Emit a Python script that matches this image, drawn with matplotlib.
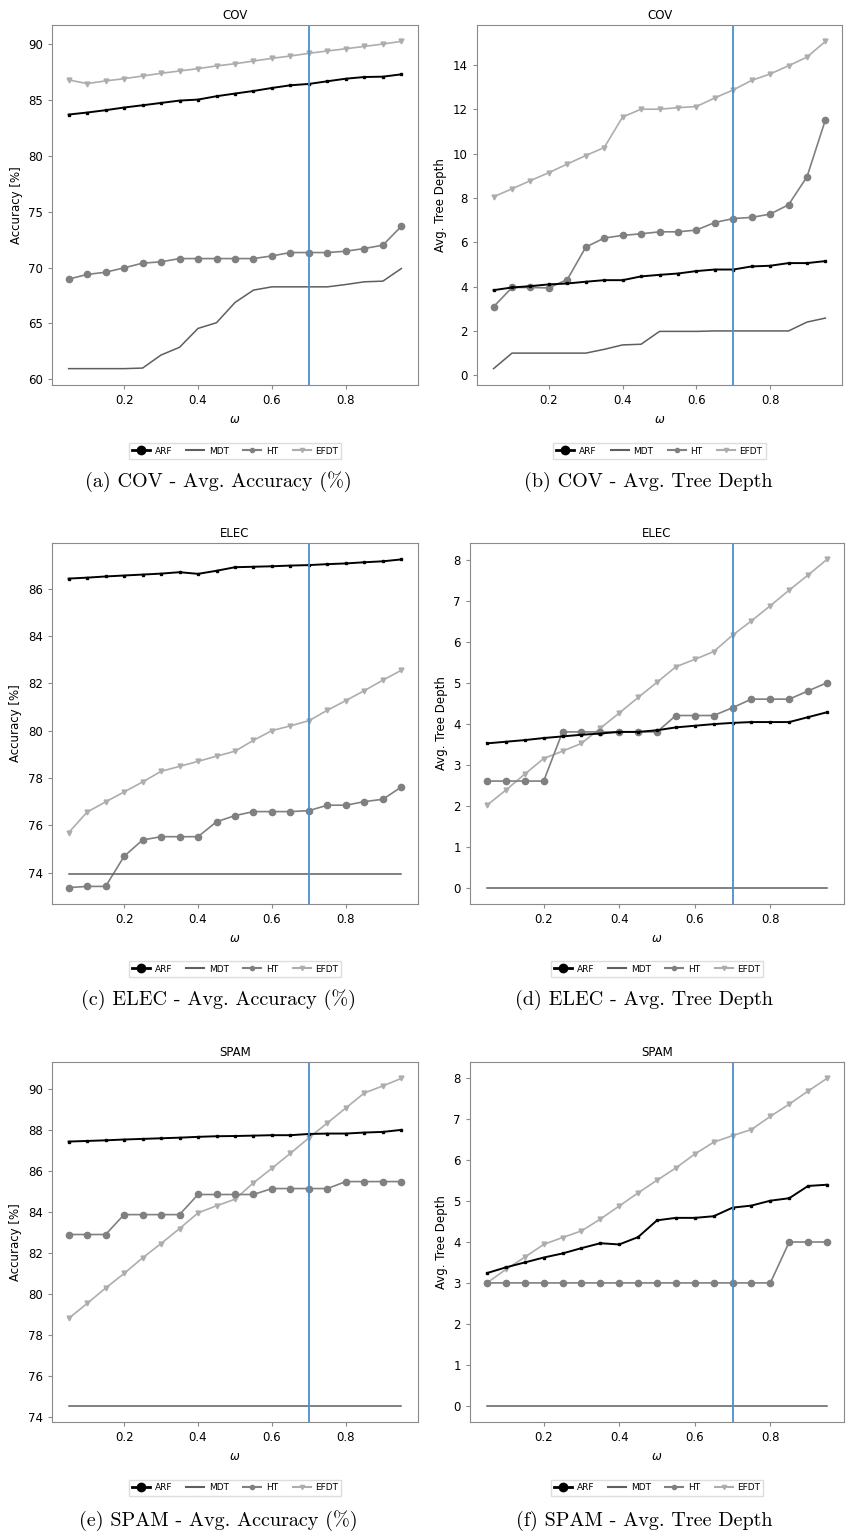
import numpy as np
import matplotlib
matplotlib.use('agg')
import matplotlib.pyplot as plt
from matplotlib.lines import Line2D

## omega values (x axis)
omega = [0.05, 0.10, 0.15, 0.20, 0.25, 0.30, 0.35, 0.40, 0.45, 0.50,
         0.55, 0.60, 0.65, 0.70, 0.75, 0.80, 0.85, 0.90, 0.95]

## COV - accuracy
cov_acc_arf = [83.69, 83.87, 84.08, 84.32, 84.52, 84.73, 84.94, 85.03, 85.33, 85.57,
               85.80, 86.07, 86.31, 86.43, 86.67, 86.90, 87.05, 87.08, 87.29]
cov_acc_mdt = [60.95, 60.95, 60.95, 60.95, 61.0, 62.17, 62.86, 64.55, 65.06, 66.87,
               67.98, 68.27, 68.27, 68.27, 68.27, 68.48, 68.72, 68.78, 69.91]
cov_acc_ht = [68.96, 69.38, 69.58, 69.97, 70.39, 70.51, 70.80, 70.80, 70.80, 70.80,
              70.80, 71.04, 71.34, 71.34, 71.34, 71.46, 71.70, 72.0, 73.69]
cov_acc_efdt = [86.79, 86.46, 86.70, 86.90, 87.14, 87.38, 87.59, 87.80, 88.04, 88.24,
                88.48, 88.72, 88.93, 89.17, 89.38, 89.58, 89.79, 90.0, 90.24]

## COV - tree depth
cov_dep_arf = [3.84, 3.96, 4.02, 4.10, 4.14, 4.22, 4.29, 4.29, 4.46, 4.53,
               4.59, 4.70, 4.77, 4.77, 4.91, 4.94, 5.06, 5.06, 5.15]
cov_dep_mdt = [0.30, 1.0, 1.0, 1.0, 1.0, 1.0, 1.17, 1.37, 1.40, 1.98,
               1.98, 1.98, 2.0, 2.0, 2.0, 2.0, 2.0, 2.40, 2.58]
cov_dep_ht = [3.09, 3.96, 3.96, 3.94, 4.32, 5.78, 6.19, 6.31, 6.38, 6.47,
              6.47, 6.55, 6.89, 7.07, 7.12, 7.27, 7.69, 8.95, 11.52]
cov_dep_efdt = [8.05, 8.41, 8.78, 9.14, 9.53, 9.91, 10.27, 11.65, 12.0, 12.0,
                12.07, 12.12, 12.51, 12.87, 13.30, 13.59, 13.96, 14.35, 15.06]

## ELEC - accuracy
elec_acc_arf = [86.42, 86.46, 86.51, 86.55, 86.59, 86.63, 86.69, 86.62, 86.75, 86.90,
                86.92, 86.94, 86.97, 86.99, 87.03, 87.06, 87.11, 87.15, 87.23]
elec_acc_mdt = [73.93] * 19
elec_acc_ht = [73.37, 73.42, 73.42, 74.69, 75.38, 75.52, 75.52, 75.52, 76.15, 76.41,
               76.58, 76.58, 76.58, 76.62, 76.85, 76.85, 77.0, 77.10, 77.62]
elec_acc_efdt = [75.69, 76.56, 76.99, 77.41, 77.83, 78.28, 78.49, 78.70, 78.92, 79.13,
                 79.59, 80.0, 80.20, 80.42, 80.86, 81.27, 81.69, 82.13, 82.55]

## ELEC - tree depth
elec_dep_arf = [3.52, 3.56, 3.60, 3.65, 3.69, 3.73, 3.76, 3.80, 3.80, 3.84,
                3.91, 3.95, 3.99, 4.02, 4.04, 4.04, 4.04, 4.16, 4.28]
elec_dep_mdt = [0.0] * 19
elec_dep_ht = [2.60, 2.60, 2.60, 2.60, 3.80, 3.80, 3.80, 3.80, 3.80, 3.80,
               4.20, 4.20, 4.20, 4.39, 4.60, 4.60, 4.60, 4.80, 5.0]
elec_dep_efdt = [2.01, 2.38, 2.77, 3.15, 3.33, 3.52, 3.89, 4.26, 4.64, 5.01,
                 5.39, 5.57, 5.76, 6.16, 6.51, 6.88, 7.26, 7.63, 8.01]

## SPAM - accuracy
spam_acc_arf = [87.42, 87.45, 87.48, 87.52, 87.55, 87.58, 87.61, 87.65, 87.68, 87.69,
                87.71, 87.73, 87.73, 87.79, 87.81, 87.81, 87.86, 87.89, 87.99]
spam_acc_mdt = [74.55] * 19
spam_acc_ht = [82.89, 82.89, 82.89, 83.86, 83.86, 83.86, 83.86, 84.84, 84.84, 84.84,
               84.84, 85.13, 85.13, 85.13, 85.13, 85.47, 85.47, 85.47, 85.47]
spam_acc_efdt = [78.80, 79.53, 80.28, 80.99, 81.75, 82.45, 83.18, 83.94, 84.29, 84.61,
                 85.41, 86.12, 86.85, 87.60, 88.33, 89.06, 89.79, 90.13, 90.50]

## SPAM - tree depth
spam_dep_arf = [3.24, 3.38, 3.50, 3.62, 3.72, 3.85, 3.97, 3.94, 4.12, 4.53,
                4.59, 4.59, 4.63, 4.84, 4.89, 5.01, 5.07, 5.37, 5.40]
spam_dep_mdt = [0.0] * 19
spam_dep_ht = [3.0] * 16 + [4.0, 4.0, 4.0]
spam_dep_efdt = [3.0, 3.33, 3.63, 3.94, 4.11, 4.27, 4.56, 4.88, 5.20, 5.51,
                 5.81, 6.15, 6.44, 6.60, 6.75, 7.07, 7.37, 7.69, 8.0]

omega_sel = 0.7

## figure layout (pixels)
W, H = 847, 1532
fig = plt.figure(figsize=(W / 100, H / 100), dpi=100)


def box(l, t, r, b):
    return [l / W, 1 - b / H, (r - l) / W, (b - t) / H]


panels = [
    # (box, title, ylabel, series, legend y, caption, caption x, caption y)
    (box(52, 25, 418, 385), 'COV', 'Accuracy [%]',
     (cov_acc_arf, cov_acc_mdt, cov_acc_ht, cov_acc_efdt),
     451, '(a) COV - Avg. Accuracy (%)', 218, 482),
    (box(477, 25, 842, 385), 'COV', 'Avg. Tree Depth',
     (cov_dep_arf, cov_dep_mdt, cov_dep_ht, cov_dep_efdt),
     451, '(b) COV - Avg. Tree Depth', 648, 482),
    (box(52, 543, 418, 904), 'ELEC', 'Accuracy [%]',
     (elec_acc_arf, elec_acc_mdt, elec_acc_ht, elec_acc_efdt),
     969, '(c) ELEC - Avg. Accuracy (%)', 218, 1000),
    (box(470, 543, 844, 904), 'ELEC', 'Avg. Tree Depth',
     (elec_dep_arf, elec_dep_mdt, elec_dep_ht, elec_dep_efdt),
     969, '(d) ELEC - Avg. Tree Depth', 644, 1000),
    (box(52, 1062, 418, 1422), 'SPAM', 'Accuracy [%]',
     (spam_acc_arf, spam_acc_mdt, spam_acc_ht, spam_acc_efdt),
     1488, '(e) SPAM - Avg. Accuracy (%)', 218, 1521),
    (box(470, 1062, 844, 1422), 'SPAM', 'Avg. Tree Depth',
     (spam_dep_arf, spam_dep_mdt, spam_dep_ht, spam_dep_efdt),
     1488, '(f) SPAM - Avg. Tree Depth', 644, 1521),
]

c_arf = 'black'
c_mdt = '#5e5e5e'
c_ht = '#808080'
c_efdt = '#adadad'
c_line = '#4a90d0'
c_spine = '#8a8a8a'

handles = [
    Line2D([], [], color=c_arf, lw=2, marker='o', ms=6),
    Line2D([], [], color=c_mdt, lw=1.5),
    Line2D([], [], color=c_ht, lw=1.5, marker='o', ms=3),
    Line2D([], [], color=c_efdt, lw=1.5, marker='v', ms=3),
]
labels = ['ARF', 'MDT', 'HT', 'EFDT']

for rect, title, ylabel, (arf, mdt, ht, efdt), leg_y, caption, cap_x, cap_y in panels:
    ax = fig.add_axes(rect)
    ax.plot(omega, efdt, color=c_efdt, lw=1.2, marker='v', ms=3.5)
    ax.plot(omega, ht, color=c_ht, lw=1.2, marker='o', ms=4.5)
    ax.plot(omega, mdt, color=c_mdt, lw=1.1)
    ax.plot(omega, arf, color=c_arf, lw=1.4, marker='s', ms=2)
    ax.axvline(omega_sel, color=c_line, lw=1.3)
    ax.set_title(title, fontsize=8.5, pad=4)
    ax.set_ylabel(ylabel, fontsize=8.5)
    ax.set_xlabel(r'$\omega$', fontsize=8.5)
    ax.set_xticks([0.2, 0.4, 0.6, 0.8])
    ax.tick_params(labelsize=8.5, color=c_spine, length=3)
    for s in ax.spines.values():
        s.set_color(c_spine)

    # legend under each panel, centred on the axes
    cx = (rect[0] + rect[2] / 2)
    fig.legend(handles, labels, loc='center', ncol=4, fontsize=6.5,
               bbox_to_anchor=(cx, 1 - leg_y / H), handlelength=2,
               columnspacing=1.6, handletextpad=0.5, borderpad=0.35,
               fancybox=False, edgecolor='#dddddd', framealpha=1)
    fig.text(cap_x / W, 1 - cap_y / H, caption, ha='center', va='center',
             fontsize=14.5, family=['cmr10', 'DejaVu Serif'])

plt.savefig('out.png', dpi=100)
